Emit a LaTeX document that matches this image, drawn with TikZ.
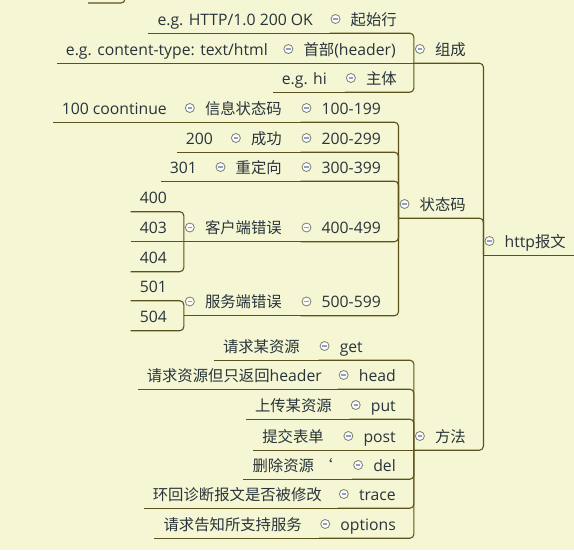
\documentclass[tikz,border=0pt]{standalone}
\usepackage{fontspec}
\setmainfont{Open Sans}
\newfontfamily\zh[Scale=0.975]{Noto Sans CJK SC}
\usetikzlibrary{positioning}
\definecolor{paper}{RGB}{245,246,211}
\definecolor{branch}{RGB}{92,82,28}
\definecolor{inktext}{RGB}{40,52,58}
\definecolor{togglering}{RGB}{125,125,115}
\definecolor{togglebar}{RGB}{140,160,205}
\tikzset{
    topic/.style={
        anchor=east,
        inner xsep=9pt,
        inner ysep=0pt,
        minimum height=28pt,
        text height=12pt,
        text depth=0pt,
        text=inktext
    },
    toggle/.style={
        circle,
        draw=togglering,
        fill=white!80!paper,
        line width=0.8pt,
        minimum size=9pt,
        inner sep=0pt,
        outer sep=1.5pt,
        path picture={\draw[togglebar, line width=1.2pt]
            ([xshift=-2.2pt]path picture bounding box.center) --
            ([xshift=2.2pt]path picture bounding box.center);}
    },
    link/.style={draw=branch, line width=1.1pt, rounded corners=4pt}
}

\begin{document}
\begin{tikzpicture}[x=1pt, y=-1pt, font=\fontsize{15.75pt}{19pt}\selectfont]
        \useasboundingbox (0,0) rectangle (574,550);
        \clip (0,0) rectangle (574,550);
        \fill[paper] (0,0) rectangle (574,550);

        % raiz
        \node[topic] (baowen) at (575,241) {http{\zh 报文}};
        \node[toggle, left=0pt of baowen] (baowen-t) {};

        % composicao
        \node[topic] (zucheng) at (475,49) {\zh 组成};
        \node[toggle, left=0pt of zucheng] (zucheng-t) {};
        \node[topic] (qishi) at (406,19) {\zh 起始行};
        \node[toggle, left=0pt of qishi] (qishi-t) {};
        \node[topic] (qishi-eg) at (322,19) {e.g. HTTP/1.0 200 OK};
        \node[topic] (shoubu) at (405,49) {{\zh 首部}(header)};
        \node[toggle, left=0pt of shoubu] (shoubu-t) {};
        \node[topic] (shoubu-eg) at (277,49) {e.g. content-type: text/html};
        \node[topic] (zhuti) at (406,78) {\zh 主体};
        \node[toggle, left=0pt of zhuti] (zhuti-t) {};
        \node[topic] (zhuti-eg) at (336,78) {e.g. hi};

        % codigos de estado
        \node[topic] (zhuangtai) at (475,204) {\zh 状态码};
        \node[toggle, left=0pt of zhuangtai] (zhuangtai-t) {};
        \node[topic] (r100) at (390,108) {100-199};
        \node[toggle, left=0pt of r100] (r100-t) {};
        \node[topic] (xinxi) at (291,108) {\zh 信息状态码};
        \node[toggle, left=0pt of xinxi] (xinxi-t) {};
        \node[topic] (c100) at (176,108) {100 coontinue};
        \node[topic] (r200) at (390,138) {200-299};
        \node[toggle, left=0pt of r200] (r200-t) {};
        \node[topic] (chenggong) at (291,138) {\zh 成功};
        \node[toggle, left=0pt of chenggong] (chenggong-t) {};
        \node[topic] (c200) at (222,138) {200};
        \node[topic] (r300) at (390,167) {300-399};
        \node[toggle, left=0pt of r300] (r300-t) {};
        \node[topic] (chongding) at (291,167) {\zh 重定向};
        \node[toggle, left=0pt of chongding] (chongding-t) {};
        \node[topic] (c301) at (206,167) {301};
        \node[topic] (r400) at (390,227.5) {400-499};
        \node[toggle, left=0pt of r400] (r400-t) {};
        \node[topic] (kehu) at (291,227.5) {\zh 客户端错误};
        \node[toggle, left=0pt of kehu] (kehu-t) {};
        \node[topic] (c400) at (176,197.5) {400};
        \node[topic] (c403) at (176,227.5) {403};
        \node[topic] (c404) at (176,257.5) {404};
        \node[topic] (r500) at (390,301.5) {500-599};
        \node[toggle, left=0pt of r500] (r500-t) {};
        \node[topic] (fuwu) at (291,301.5) {\zh 服务端错误};
        \node[toggle, left=0pt of fuwu] (fuwu-t) {};
        \node[topic] (c501) at (176,286.5) {501};
        \node[topic] (c504) at (176,316.5) {504};

        % metodos
        \node[topic] (fangfa) at (475,436) {\zh 方法};
        \node[toggle, left=0pt of fangfa] (fangfa-t) {};
        \node[topic] (mget) at (372,346) {get};
        \node[toggle, left=0pt of mget] (mget-t) {};
        \node[topic] (mget-d) at (309,346) {\zh 请求某资源};
        \node[topic] (mhead) at (405,375) {head};
        \node[toggle, left=0pt of mhead] (mhead-t) {};
        \node[topic] (mhead-d) at (331,375) {{\zh 请求资源但只返回}header};
        \node[topic] (mput) at (405,405) {put};
        \node[toggle, left=0pt of mput] (mput-t) {};
        \node[topic] (mput-d) at (341,405) {\zh 上传某资源};
        \node[topic] (mpost) at (405,436) {post};
        \node[toggle, left=0pt of mpost] (mpost-t) {};
        \node[topic] (mpost-d) at (333,436) {\zh 提交表单};
        \node[topic] (mdel) at (405,465) {del};
        \node[toggle, left=0pt of mdel] (mdel-t) {};
        \node[topic] (mdel-d) at (342,465) {\zh 删除资源 ‘};
        \node[topic] (mtrace) at (405,494) {trace};
        \node[toggle, left=0pt of mtrace] (mtrace-t) {};
        \node[topic] (mtrace-d) at (331,494) {\zh 环回诊断报文是否被修改};
        \node[topic] (moptions) at (405,524) {options};
        \node[toggle, left=0pt of moptions] (moptions-t) {};
        \node[topic] (moptions-d) at (311,524) {\zh 请求告知所支持服务};

        % ramo cortado no topo
        \coordinate (prev-j) at (125,-12);
        \coordinate (prev-end) at (88,3);
        \draw[link] (prev-j) |- (prev-end);

        \draw[link] (baowen-t.west |- baowen.south) -- (baowen.south east);
        \draw[link] (baowen-t.west |- baowen.south) |- (zucheng-t.west |- zucheng.south);
        \draw[link] (baowen-t.west |- baowen.south) |- (zhuangtai-t.west |- zhuangtai.south);
        \draw[link] (baowen-t.west |- baowen.south) |- (fangfa-t.west |- fangfa.south);

        \draw[link] (zucheng-t.west |- zucheng.south) |- (qishi-t.west |- qishi.south);
        \draw[link] (zucheng-t.west |- zucheng.south) -- (shoubu-t.west |- shoubu.south);
        \draw[link] (zucheng-t.west |- zucheng.south) |- (zhuti-t.west |- zhuti.south);
        \draw[link] (qishi-t.west |- qishi.south) -- (qishi-eg.south west);
        \draw[link] (shoubu-t.west |- shoubu.south) -- (shoubu-eg.south west);
        \draw[link] (zhuti-t.west |- zhuti.south) -- (zhuti-eg.south west);

        \draw[link] (zhuangtai-t.west |- zhuangtai.south) |- (r100-t.west |- r100.south);
        \draw[link] (zhuangtai-t.west |- zhuangtai.south) |- (r200-t.west |- r200.south);
        \draw[link] (zhuangtai-t.west |- zhuangtai.south) |- (r300-t.west |- r300.south);
        \draw[link] (zhuangtai-t.west |- zhuangtai.south) |- (r400-t.west |- r400.south);
        \draw[link] (zhuangtai-t.west |- zhuangtai.south) |- (r500-t.west |- r500.south);
        \draw[link] (r100-t.west |- r100.south) -- (xinxi-t.west |- xinxi.south);
        \draw[link] (xinxi-t.west |- xinxi.south) -- (c100.south west);
        \draw[link] (r200-t.west |- r200.south) -- (chenggong-t.west |- chenggong.south);
        \draw[link] (chenggong-t.west |- chenggong.south) -- (c200.south west);
        \draw[link] (r300-t.west |- r300.south) -- (chongding-t.west |- chongding.south);
        \draw[link] (chongding-t.west |- chongding.south) -- (c301.south west);
        \draw[link] (r400-t.west |- r400.south) -- (kehu-t.west |- kehu.south);
        \draw[link] (kehu-t.west |- kehu.south) |- (c400.south west);
        \draw[link] (kehu-t.west |- kehu.south) -- (c403.south west);
        \draw[link] (kehu-t.west |- kehu.south) |- (c404.south west);
        \draw[link] (r500-t.west |- r500.south) -- (fuwu-t.west |- fuwu.south);
        \draw[link] (fuwu-t.west |- fuwu.south) |- (c501.south west);
        \draw[link] (fuwu-t.west |- fuwu.south) |- (c504.south west);

        \draw[link] (fangfa-t.west |- fangfa.south) |- (mget-t.west |- mget.south);
        \draw[link] (fangfa-t.west |- fangfa.south) |- (mhead-t.west |- mhead.south);
        \draw[link] (fangfa-t.west |- fangfa.south) |- (mput-t.west |- mput.south);
        \draw[link] (fangfa-t.west |- fangfa.south) -- (mpost-t.west |- mpost.south);
        \draw[link] (fangfa-t.west |- fangfa.south) |- (mdel-t.west |- mdel.south);
        \draw[link] (fangfa-t.west |- fangfa.south) |- (mtrace-t.west |- mtrace.south);
        \draw[link] (fangfa-t.west |- fangfa.south) |- (moptions-t.west |- moptions.south);
        \draw[link] (mget-t.west |- mget.south) -- (mget-d.south west);
        \draw[link] (mhead-t.west |- mhead.south) -- (mhead-d.south west);
        \draw[link] (mput-t.west |- mput.south) -- (mput-d.south west);
        \draw[link] (mpost-t.west |- mpost.south) -- (mpost-d.south west);
        \draw[link] (mdel-t.west |- mdel.south) -- (mdel-d.south west);
        \draw[link] (mtrace-t.west |- mtrace.south) -- (mtrace-d.south west);
        \draw[link] (moptions-t.west |- moptions.south) -- (moptions-d.south west);
    \end{tikzpicture}
\end{document}
